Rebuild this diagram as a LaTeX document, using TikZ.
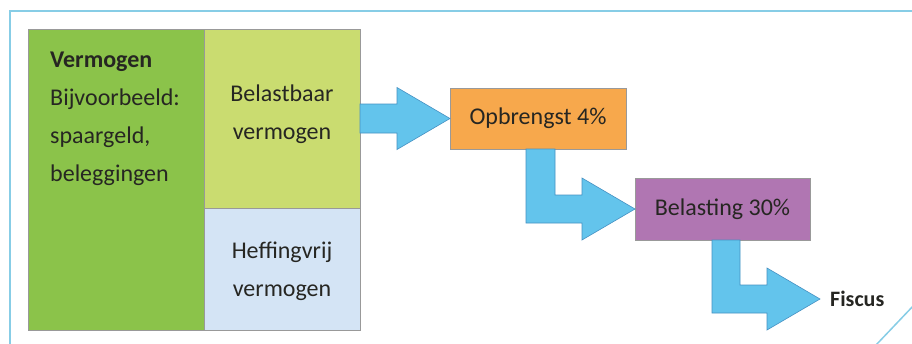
\documentclass[tikz,border=0pt]{standalone}
\usepackage{fontspec}
\setmainfont{Carlito}
\usetikzlibrary{calc}
\definecolor{framec}{RGB}{135,205,230}
\definecolor{dgreen}{RGB}{139,195,74}
\definecolor{lgreen}{RGB}{202,220,112}
\definecolor{lblue}{RGB}{212,228,245}
\definecolor{orng}{RGB}{247,168,76}
\definecolor{purp}{RGB}{176,118,178}
\definecolor{arrblue}{RGB}{99,196,236}
\definecolor{arredge}{RGB}{70,145,195}
\definecolor{txt}{RGB}{38,38,34}
\begin{document}
\begin{tikzpicture}[x=1pt,y=-1pt,
  blk/.style={draw=black!40, line width=0.8pt, inner sep=0pt, outer sep=0pt, anchor=north west},
  lbl/.style={font=\fontsize{24}{38}\selectfont, text=txt, align=center, inner sep=0pt},
  lline/.style={font=\fontsize{24}{38}\selectfont, text=txt, anchor=base west, inner sep=0pt},
  bigarrow/.style={fill=arrblue, draw=arredge, line width=0.6pt, line join=miter}]
\useasboundingbox (0,0) rectangle (912,343);
\fill[white] (0,0) rectangle (912,343);
% frame
\draw[framec, line width=2pt] (10,345) -- (10,11) -- (915,11);
\draw[framec, line width=1.5pt] (876,345) -- (915,304);
% blocks
\node[blk, fill=dgreen, minimum width=176, minimum height=301] (verm) at (28,29) {};
\node[blk, fill=lgreen, minimum width=156, minimum height=179] (bel) at (204,29) {};
\node[blk, fill=lblue, minimum width=156, minimum height=122] (hef) at (204,208) {};
\node[blk, fill=orng, minimum width=176, minimum height=61, lbl, anchor=north west] (op) at (450,88) {Opbrengst 4\%};
\node[blk, fill=purp, minimum width=175, minimum height=62, lbl, anchor=north west] (bt) at (635,178) {Belasting 30\%};
% texts
\node[lline] (v1) at (50,67) {\textbf{Vermogen}};
\node[lline] (v2) at (50,105) {Bijvoorbeeld:};
\node[lline] (v3) at (50,143) {spaargeld,};
\node[lline] (v4) at (50,181) {beleggingen};
\node[lbl] (beltxt) at ($(bel.center)+(0,-4)$) {Belastbaar\\vermogen};
\node[lbl] (heftxt) at ($(hef.center)+(0,2)$) {Heffingvrij\\vermogen};
\node[anchor=west, inner sep=0pt, text=txt, font=\fontsize{22}{26}\selectfont\bfseries] (fis) at (830,299) {Fiscus};
% arrow 1
\draw[bigarrow] ($(bel.east)+(0,-14.5)$) -- ($(bel.east)+(37,-14.5)$) -- ($(bel.east)+(37,-31)$)
  -- (op.west) -- ($(bel.east)+(37,31)$) -- ($(bel.east)+(37,14.5)$) -- ($(bel.east)+(0,14.5)$) -- cycle;
% arrow 2
\coordinate (p2a) at ($(op.south)+(-12,0)$);
\coordinate (p2b) at ($(op.south)+(17,0)$);
\coordinate (u2) at ($(bt.west)+(-53,-14)$);
\coordinate (d2) at ($(bt.west)+(-53,14)$);
\draw[bigarrow] (p2a) -- (p2b) -- (p2b |- u2) -- (u2) -- ($(u2)+(0,-17)$) -- (bt.west)
  -- ($(d2)+(0,17)$) -- (d2) -- (p2a |- d2) -- cycle;
% arrow 3
\coordinate (tip3) at ($(fis.west)+(-10,0)$);
\coordinate (p3a) at ($(bt.south)+(-10.5,0)$);
\coordinate (p3b) at ($(bt.south)+(17.5,0)$);
\coordinate (u3) at ($(tip3)+(-53,-14)$);
\coordinate (d3) at ($(tip3)+(-53,14)$);
\draw[bigarrow] (p3a) -- (p3b) -- (p3b |- u3) -- (u3) -- ($(u3)+(0,-17)$) -- (tip3)
  -- ($(d3)+(0,17)$) -- (d3) -- (p3a |- d3) -- cycle;
\end{tikzpicture}
\end{document}
